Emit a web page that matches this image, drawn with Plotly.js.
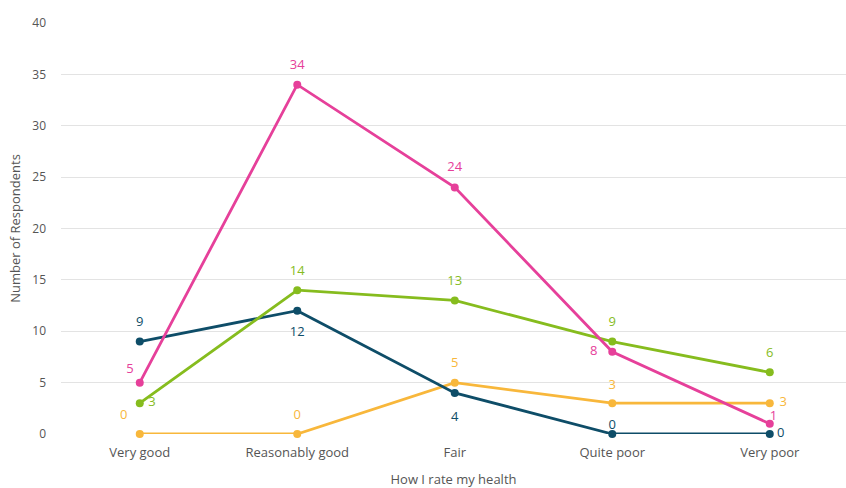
<!DOCTYPE html>
<html><head><meta charset="utf-8">
<script src="https://cdn.plot.ly/plotly-3.0.1.min.js"></script>
<style>html,body{margin:0;padding:0;background:#fff}#c{width:846px;height:488px}</style>
</head><body><div id="c"></div>
<script>
const categories = ["Very good", "Reasonably good", "Fair", "Quite poor", "Very poor"];
const pinkValues = [5, 34, 24, 8, 1];
const greenValues = [3, 14, 13, 9, 6];
const blueValues = [9, 12, 4, 0, 0];
const yellowValues = [0, 0, 5, 3, 3];
const yTicks = [0, 5, 10, 15, 20, 25, 30, 35, 40];

const FONT = '"Open Sans", Lato, sans-serif';

function line(vals, color) {
  return {
    x: categories, y: vals, type: 'scatter', mode: 'lines+markers',
    line: {color: color, width: 2.8},
    marker: {color: color, size: 8, line: {width: 0}},
    cliponaxis: false, hoverinfo: 'x+y', showlegend: false
  };
}
function labels(vals, color, positions, pads) {
  return {
    x: categories, y: vals, type: 'scatter', mode: 'markers+text',
    text: vals.map(String), textposition: positions,
    textfont: {family: FONT, size: 13, color: color},
    marker: {size: pads, color: 'rgba(0,0,0,0)', line: {width: 0, color: 'rgba(0,0,0,0)'}},
    cliponaxis: false, hoverinfo: 'skip', showlegend: false
  };
}

const C = {pink: '#E6409A', green: '#86BC1E', blue: '#0E4D68', yellow: '#F8B73B'};

const data = [
  line(yellowValues, C.yellow),
  line(blueValues, C.blue),
  line(greenValues, C.green),
  line(pinkValues, C.pink),
  labels(yellowValues, C.yellow, ['top left', 'top center', 'top center', 'top center', 'middle right'], [18, 18, 18, 16, 14]),
  labels(blueValues, C.blue, ['top center', 'bottom center', 'bottom center', 'top center', 'middle right'], [18, 24, 28, 2, 10]),
  labels(greenValues, C.green, ['middle right', 'top center', 'top center', 'top center', 'top center'], [12, 18, 18, 18, 18]),
  labels(pinkValues, C.pink, ['top left', 'top center', 'top center', 'middle left', 'top right'], [8, 18, 20, 22, 0])
];

const layout = {
  width: 846, height: 488,
  margin: {l: 61, r: 0, t: 23, b: 54},
  paper_bgcolor: '#fff', plot_bgcolor: '#fff',
  font: {family: FONT, color: '#555', size: 12},
  xaxis: {
    type: 'category', range: [-0.5, 4.484],
    showgrid: false, zeroline: false, showline: false, ticks: '',
    ticklabelstandoff: 9,
    tickfont: {size: 13, color: '#555'},
    title: {text: 'How I rate my health', font: {size: 13, color: '#555'}, standoff: 26}
  },
  yaxis: {
    range: [0, 40], tickvals: yTicks, ticktext: yTicks.map(String),
    showgrid: true, gridcolor: '#e3e3e3', gridwidth: 1, zeroline: false, showline: false,
    ticks: '', ticklabelstandoff: 14,
    tickfont: {size: 12, color: '#555'},
    title: {text: 'Number of Respondents', font: {size: 13, color: '#555'}, standoff: 8}
  }
};
Plotly.newPlot('c', data, layout, {staticPlot: true, displayModeBar: false});
</script></body></html>
